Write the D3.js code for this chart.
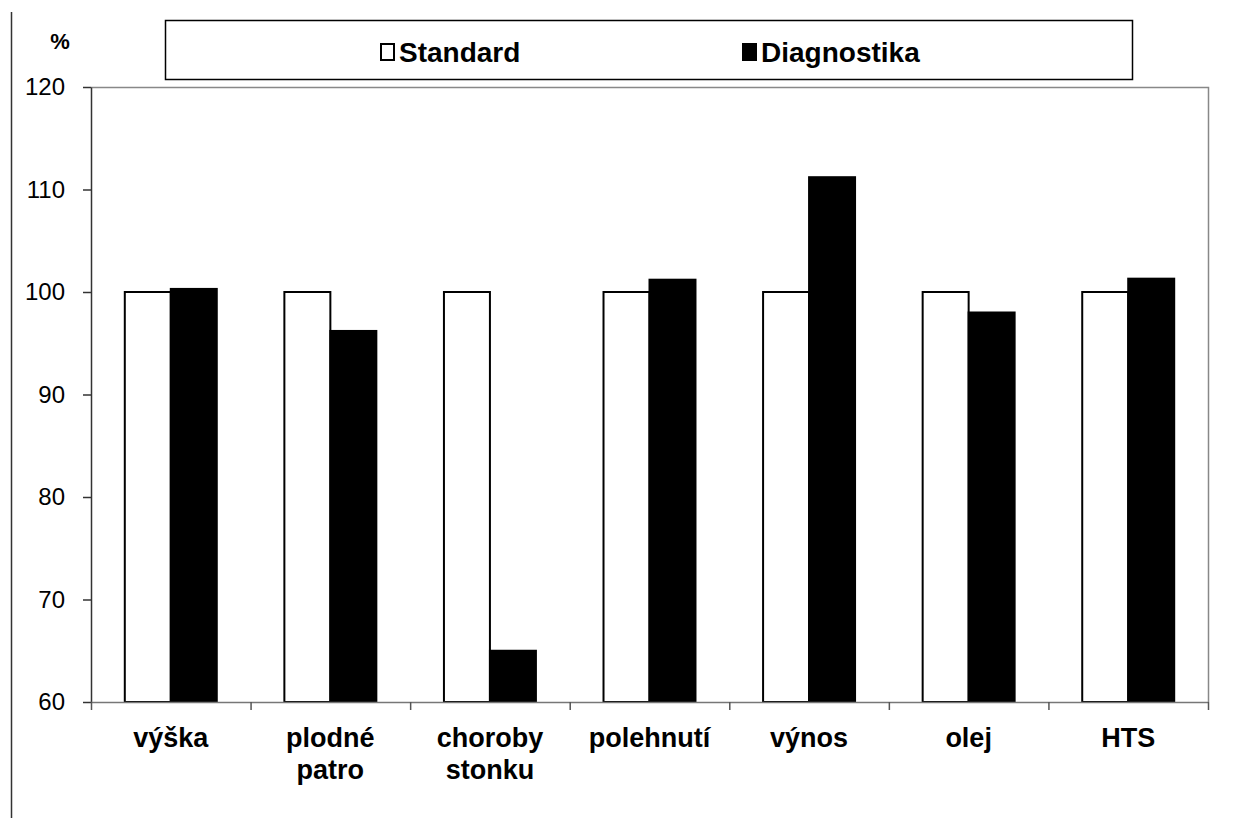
<!DOCTYPE html>
<html>
<head>
<meta charset="utf-8">
<title></title>
<style>
body { margin: 0; background: #fff; }
text { font-family: Arial, "Liberation Sans", sans-serif; fill: #000; }
</style>
</head>
<body>
<script src="https://cdn.jsdelivr.net/npm/d3@7/dist/d3.min.js"></script>
<script>

var categories = [["výška"], ["plodné", "patro"], ["choroby", "stonku"], ["polehnutí"], ["výnos"], ["olej"], ["HTS"]];
var seriesNames = ["Standard", "Diagnostika"];
var standard = [100, 100, 100, 100, 100, 100, 100];
var diagnostika = [100.3, 96.2, 65.0, 101.2, 111.2, 98.0, 101.3];
var yTicks = [60, 70, 80, 90, 100, 110, 120];

var width = 1235, height = 825;
var plotLeft = 91, plotRight = 1208, plotTop = 87, plotBottom = 702;

var svg = d3.select("body").append("svg")
    .attr("width", width)
    .attr("height", height);

// outer chart border, only the left edge shows
svg.append("line")
    .attr("x1", 11.5).attr("x2", 11.5)
    .attr("y1", 12).attr("y2", 818)
    .style("stroke", "#333")
    .style("stroke-width", 1.5);

var keys = categories.map(function(c, i) { return "c" + i; });

var x0 = d3.scaleBand()
    .domain(keys)
    .range([plotLeft, plotRight])
    .padding(0);

var x1 = d3.scaleBand()
    .domain(seriesNames)
    .range([0, x0.bandwidth()])
    .paddingInner(0)
    .paddingOuter(0.735);

var y = d3.scaleLinear()
    .domain([60, 120])
    .range([plotBottom, plotTop]);

// plot area frame (top and right)
svg.append("path")
    .attr("d", "M" + plotLeft + "," + (plotTop + 0.5) + "H" + (plotRight + 0.5) + "V" + plotBottom)
    .style("fill", "none")
    .style("stroke", "#888")
    .style("stroke-width", 1.5);

var rows = categories.map(function(c, i) {
  return { key: keys[i], values: [standard[i], diagnostika[i]] };
});

var group = svg.append("g")
    .selectAll("g")
    .data(rows)
    .enter().append("g")
    .attr("transform", function(d) { return "translate(" + x0(d.key) + ",0)"; });

group.selectAll("rect")
    .data(function(d) { return d.values.map(function(v, j) { return { s: seriesNames[j], v: v }; }); })
    .enter().append("rect")
    .attr("x", function(d) { return x1(d.s); })
    .attr("y", function(d) { return y(d.v); })
    .attr("width", x1.bandwidth())
    .attr("height", function(d) { return y(60) - y(d.v); })
    .style("fill", function(d) { return d.s == "Standard" ? "#fff" : "#000"; })
    .style("stroke", "#000")
    .style("stroke-width", 2);

// y axis
var yAxis = svg.append("g")
    .attr("transform", "translate(" + plotLeft + ",0)")
    .call(d3.axisLeft(y).tickValues(yTicks).tickSize(8).tickPadding(18).tickSizeOuter(0));
yAxis.select(".domain").style("stroke", "#333").style("stroke-width", 1.5);
yAxis.selectAll(".tick line").style("stroke", "#333").style("stroke-width", 1.5);
yAxis.selectAll("text")
    .style("font-family", "Arial, 'Liberation Sans', sans-serif")
    .style("font-size", "24px")
    .style("fill", "#000");

// x axis line and boundary ticks
svg.append("line")
    .attr("x1", plotLeft).attr("x2", plotRight + 0.5)
    .attr("y1", plotBottom + 0.5).attr("y2", plotBottom + 0.5)
    .style("stroke", "#777")
    .style("stroke-width", 1.5);

var bounds = keys.map(function(k) { return x0(k); }).concat([plotRight]);
svg.selectAll(".xtick")
    .data(bounds)
    .enter().append("line")
    .attr("class", "xtick")
    .attr("x1", function(d) { return d + 0.5; })
    .attr("x2", function(d) { return d + 0.5; })
    .attr("y1", plotBottom)
    .attr("y2", plotBottom + 8)
    .style("stroke", "#555")
    .style("stroke-width", 1.5);

// category labels
var labels = svg.selectAll(".xlabel")
    .data(rows)
    .enter().append("text")
    .attr("class", "xlabel")
    .attr("text-anchor", "middle")
    .style("font-size", "27px")
    .style("font-weight", "bold");

labels.selectAll("tspan")
    .data(function(d, i) { return categories[i].map(function(t) { return { t: t, key: d.key }; }); })
    .enter().append("tspan")
    .attr("x", function(d) { return x0(d.key) + x0.bandwidth() / 2; })
    .attr("y", function(d, j) { return 747 + j * 32; })
    .text(function(d) { return d.t; });

// unit label
svg.append("text")
    .attr("x", 60)
    .attr("y", 49)
    .attr("text-anchor", "middle")
    .style("font-size", "22px")
    .style("font-weight", "bold")
    .text("%");

// legend
svg.append("rect")
    .attr("x", 165.5).attr("y", 20.5)
    .attr("width", 967).attr("height", 59)
    .style("fill", "#fff")
    .style("stroke", "#000")
    .style("stroke-width", 1.5);

var legendX = [381, 743];
var legend = svg.selectAll(".legend")
    .data(seriesNames)
    .enter().append("g")
    .attr("class", "legend")
    .attr("transform", function(d, i) { return "translate(" + legendX[i] + ",52)"; });

legend.append("rect")
    .attr("x", 0).attr("y", -8)
    .attr("width", 13).attr("height", 16)
    .style("fill", function(d) { return d == "Standard" ? "#fff" : "#000"; })
    .style("stroke", "#000")
    .style("stroke-width", 2);

legend.append("text")
    .attr("x", 18)
    .attr("y", 10)
    .style("font-size", "28px")
    .style("font-weight", "bold")
    .text(function(d) { return d; });

</script>
</body>
</html>
